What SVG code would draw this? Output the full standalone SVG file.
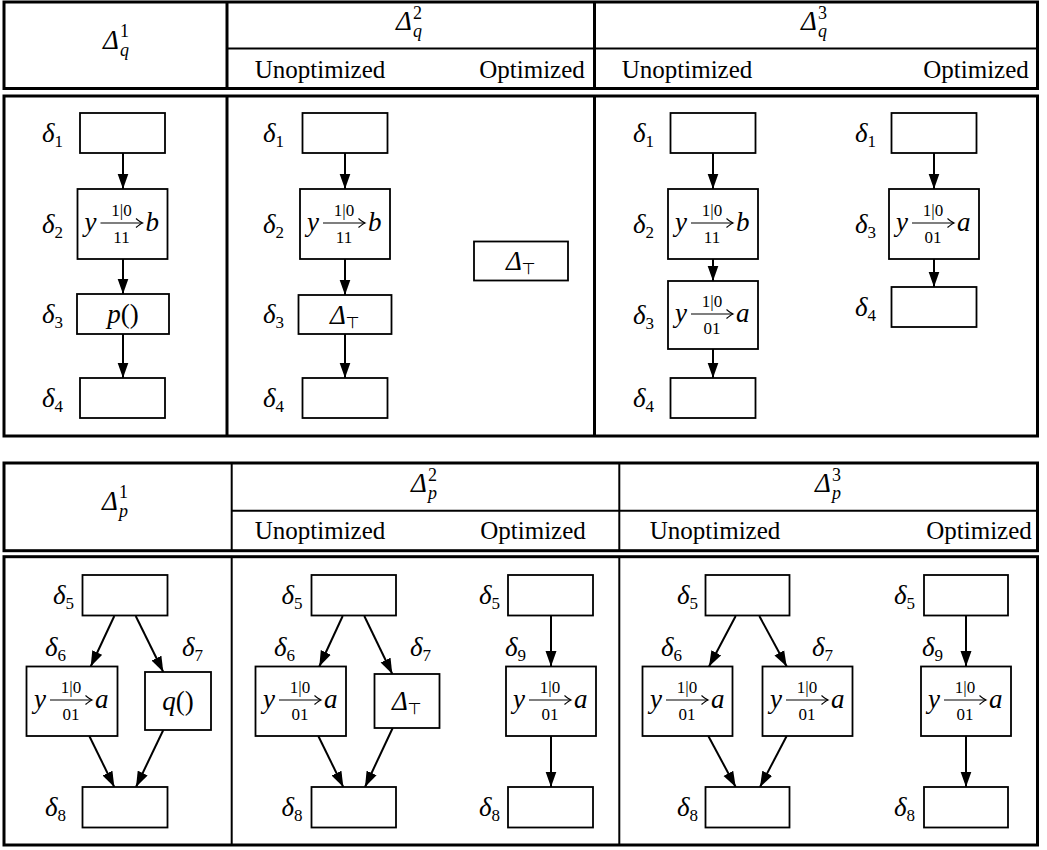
<svg xmlns="http://www.w3.org/2000/svg" width="1047" height="850" viewBox="0 0 1047 850">
<style>
.frame{fill:none;stroke:#000;stroke-width:3}
.rule{stroke:#000;stroke-width:2}
.rule3{stroke:#000;stroke-width:3}
.box{fill:#fff;stroke:#000;stroke-width:1.8}
.edge{fill:none;stroke:#000;stroke-width:2;marker-end:url(#tip)}
.xarr{fill:none;stroke:#000;stroke-width:1.2;marker-end:url(#hook)}
text{font-family:"Liberation Serif",serif;fill:#000}
.hd{font-size:25px;text-anchor:middle}
.m{font-size:27px;font-style:italic}
.hm{font-size:27px;font-style:italic}
.s{font-size:17px;font-style:normal}
.si{font-size:18px;font-style:italic}
.hs{font-size:18px;font-style:normal}
.t{font-family:"DejaVu Sans",sans-serif;font-size:16px;font-style:normal;fill:#000}
.c{text-anchor:middle}
.up{font-style:normal}
</style>
<defs>
<marker id="tip" markerUnits="userSpaceOnUse" markerWidth="16" markerHeight="12" viewBox="0 0 16 12" refX="15.5" refY="6" orient="auto"><path d="M0,0.5 L15.5,6 L0,11.5 z" fill="#000"/></marker>
<marker id="hook" markerUnits="userSpaceOnUse" markerWidth="10" markerHeight="10" viewBox="-8 -5 10 10" refX="0" refY="0" orient="auto" overflow="visible"><path d="M-6.5,-4.5 Q-2,-0.8 0,0 Q-2,0.8 -6.5,4.5" fill="none" stroke="#000" stroke-width="1.2"/></marker>
</defs>
<rect width="1047" height="850" fill="#fff"/>

<!-- ===== upper table: procedure q ===== -->
<g id="q-header">
<rect class="frame" x="4" y="2" width="1033.5" height="86.5"/>
<line class="rule3" x1="227" y1="2" x2="227" y2="88.5"/>
<line class="rule3" x1="594.5" y1="2" x2="594.5" y2="88.5"/>
<line class="rule" x1="227" y1="48.5" x2="1037.5" y2="48.5"/>
<text class="hm" x="103" y="49">Δ</text><text class="hs" x="120" y="37">1</text><text class="si" x="120" y="56">q</text>
<text class="hm" x="396" y="30">Δ</text><text class="hs" x="413" y="19">2</text><text class="si" x="413" y="37">q</text>
<text class="hm" x="801" y="30">Δ</text><text class="hs" x="818" y="19">3</text><text class="si" x="818" y="37">q</text>
<text class="hd" x="320" y="78">Unoptimized</text>
<text class="hd" x="532" y="78">Optimized</text>
<text class="hd" x="687" y="78">Unoptimized</text>
<text class="hd" x="976" y="78">Optimized</text>
</g>
<g id="q-body">
<rect class="frame" x="4" y="96" width="1033.5" height="340"/>
<line class="rule3" x1="227" y1="96" x2="227" y2="436"/>
<line class="rule3" x1="594.5" y1="96" x2="594.5" y2="436"/>
</g>

<g id="connectors-q">
<line class="edge" x1="123" y1="153" x2="123" y2="189"/>
<line class="edge" x1="123" y1="259" x2="123" y2="294"/>
<line class="edge" x1="123" y1="334" x2="123" y2="378"/>
<line class="edge" x1="345" y1="153" x2="345" y2="189"/>
<line class="edge" x1="345" y1="259" x2="345" y2="295"/>
<line class="edge" x1="345" y1="334" x2="345" y2="378"/>
<line class="edge" x1="713" y1="153" x2="713" y2="189"/>
<line class="edge" x1="713" y1="259" x2="713" y2="281"/>
<line class="edge" x1="713" y1="349" x2="713" y2="378"/>
<line class="edge" x1="934" y1="153" x2="934" y2="189"/>
<line class="edge" x1="934" y1="259" x2="934" y2="287"/>
</g>

<!-- q, first version -->
<g id="q1-d1"><rect class="box" x="80" y="113" width="85" height="40"/><text class="m" x="42" y="142">δ<tspan class="s" dy="5">1</tspan></text></g>
<g id="q1-d2"><rect class="box" x="77.5" y="189" width="90" height="70"/><text class="m" x="42" y="233">δ<tspan class="s" dy="5">2</tspan></text>
<text class="m" x="84.5" y="231">y</text><path class="xarr" d="M100.5 223 H142.5"/><text class="s c" x="121.5" y="216">1|0</text><text class="s c" x="121.5" y="243">11</text><text class="m" x="145.5" y="231">b</text></g>
<g id="q1-d3"><rect class="box" x="77" y="294" width="92" height="40"/><text class="m" x="42" y="323">δ<tspan class="s" dy="5">3</tspan></text>
<text class="m c" x="123" y="323">p<tspan class="up">()</tspan></text></g>
<g id="q1-d4"><rect class="box" x="80" y="378" width="85" height="40"/><text class="m" x="42" y="407">δ<tspan class="s" dy="5">4</tspan></text></g>

<!-- q, second version, unoptimized -->
<g id="q2u-d1"><rect class="box" x="302.5" y="113" width="85" height="40"/><text class="m" x="263" y="142">δ<tspan class="s" dy="5">1</tspan></text></g>
<g id="q2u-d2"><rect class="box" x="300" y="189" width="90" height="70"/><text class="m" x="263" y="233">δ<tspan class="s" dy="5">2</tspan></text>
<text class="m" x="307" y="231">y</text><path class="xarr" d="M323 223 H365"/><text class="s c" x="344" y="216">1|0</text><text class="s c" x="344" y="243">11</text><text class="m" x="368" y="231">b</text></g>
<g id="q2u-d3"><rect class="box" x="298.5" y="295" width="93" height="39"/><text class="m" x="263" y="323">δ<tspan class="s" dy="5">3</tspan></text>
<text class="m" x="330" y="323.5">Δ<tspan class="t" dy="4">⊤</tspan></text></g>
<g id="q2u-d4"><rect class="box" x="302.5" y="378" width="85" height="40"/><text class="m" x="263" y="407">δ<tspan class="s" dy="5">4</tspan></text></g>

<!-- q, second version, optimized -->
<g id="q2o-top"><rect class="box" x="474" y="241.5" width="94" height="39"/><text class="m" x="506" y="270">Δ<tspan class="t" dy="4">⊤</tspan></text></g>

<!-- q, third version, unoptimized -->
<g id="q3u-d1"><rect class="box" x="670.5" y="113" width="85" height="40"/><text class="m" x="633" y="142">δ<tspan class="s" dy="5">1</tspan></text></g>
<g id="q3u-d2"><rect class="box" x="668" y="189" width="90" height="70"/><text class="m" x="633" y="233">δ<tspan class="s" dy="5">2</tspan></text>
<text class="m" x="675" y="231">y</text><path class="xarr" d="M691 223 H733"/><text class="s c" x="712" y="216">1|0</text><text class="s c" x="712" y="243">11</text><text class="m" x="736" y="231">b</text></g>
<g id="q3u-d3"><rect class="box" x="668" y="281" width="90" height="68"/><text class="m" x="633" y="324">δ<tspan class="s" dy="5">3</tspan></text>
<text class="m" x="675" y="322">y</text><path class="xarr" d="M691 314 H733"/><text class="s c" x="712" y="307">1|0</text><text class="s c" x="712" y="334">01</text><text class="m" x="736" y="322">a</text></g>
<g id="q3u-d4"><rect class="box" x="670.5" y="378" width="85" height="40"/><text class="m" x="633" y="407">δ<tspan class="s" dy="5">4</tspan></text></g>

<!-- q, third version, optimized -->
<g id="q3o-d1"><rect class="box" x="891.5" y="113" width="85" height="40"/><text class="m" x="855" y="142">δ<tspan class="s" dy="5">1</tspan></text></g>
<g id="q3o-d3"><rect class="box" x="889" y="189" width="90" height="70"/><text class="m" x="855" y="233">δ<tspan class="s" dy="5">3</tspan></text>
<text class="m" x="896" y="231">y</text><path class="xarr" d="M912 223 H954"/><text class="s c" x="933" y="216">1|0</text><text class="s c" x="933" y="243">01</text><text class="m" x="957" y="231">a</text></g>
<g id="q3o-d4"><rect class="box" x="891.5" y="287" width="85" height="40"/><text class="m" x="855" y="316">δ<tspan class="s" dy="5">4</tspan></text></g>

<!-- ===== lower table: procedure p ===== -->
<g id="p-header">
<rect class="frame" x="4" y="463" width="1033.5" height="87.7"/>
<line class="rule" x1="231.7" y1="463" x2="231.7" y2="550.7"/>
<line class="rule" x1="619.3" y1="463" x2="619.3" y2="550.7"/>
<line class="rule" x1="231.7" y1="510.7" x2="1037.5" y2="510.7"/>
<text class="hm" x="102" y="510">Δ</text><text class="hs" x="119" y="498">1</text><text class="si" x="119" y="517">p</text>
<text class="hm" x="411" y="492">Δ</text><text class="hs" x="428" y="481">2</text><text class="si" x="428" y="499">p</text>
<text class="hm" x="815" y="492">Δ</text><text class="hs" x="832" y="481">3</text><text class="si" x="832" y="499">p</text>
<text class="hd" x="320" y="539">Unoptimized</text>
<text class="hd" x="533" y="539">Optimized</text>
<text class="hd" x="715" y="539">Unoptimized</text>
<text class="hd" x="979" y="539">Optimized</text>
</g>
<g id="p-body">
<rect class="frame" x="4" y="556.7" width="1033.5" height="288.3"/>
<line class="rule" x1="231.7" y1="556.7" x2="231.7" y2="845"/>
<line class="rule" x1="619.3" y1="556.7" x2="619.3" y2="845"/>
</g>

<g id="connectors-p">
<line class="edge" x1="114.3" y1="616" x2="90.7" y2="666.5"/>
<line class="edge" x1="135.7" y1="616" x2="163.3" y2="672"/>
<line class="edge" x1="89.3" y1="736" x2="114.3" y2="787"/>
<line class="edge" x1="163.3" y1="730" x2="136" y2="787"/>
<line class="edge" x1="342.7" y1="616" x2="319.3" y2="666.5"/>
<line class="edge" x1="364.3" y1="616" x2="392.3" y2="674"/>
<line class="edge" x1="318.3" y1="736" x2="343.3" y2="787"/>
<line class="edge" x1="392.7" y1="728" x2="365" y2="787"/>
<line class="edge" x1="551" y1="615.5" x2="551" y2="666.5"/>
<line class="edge" x1="551" y1="736" x2="551" y2="787"/>
<line class="edge" x1="735.7" y1="616" x2="709" y2="666.5"/>
<line class="edge" x1="759.3" y1="616" x2="786.7" y2="666.5"/>
<line class="edge" x1="708.3" y1="736" x2="735.7" y2="787"/>
<line class="edge" x1="786.7" y1="736" x2="760" y2="787"/>
<line class="edge" x1="966" y1="615.5" x2="966" y2="666.5"/>
<line class="edge" x1="966" y1="736" x2="966" y2="787"/>
</g>

<!-- p, first version -->
<g id="p1-d5"><rect class="box" x="82.5" y="575" width="85" height="40.5"/><text class="m" x="53" y="604">δ<tspan class="s" dy="5">5</tspan></text></g>
<g id="p1-d6"><rect class="box" x="26.5" y="666.5" width="91" height="69.5"/><text class="m" x="45" y="656">δ<tspan class="s" dy="5">6</tspan></text>
<text class="m" x="34" y="708">y</text><path class="xarr" d="M50 700 H92"/><text class="s c" x="71" y="693">1|0</text><text class="s c" x="71" y="720">01</text><text class="m" x="95" y="708">a</text></g>
<g id="p1-d7"><rect class="box" x="145" y="672" width="66" height="58"/><text class="m" x="182" y="656">δ<tspan class="s" dy="5">7</tspan></text>
<text class="m c" x="178" y="710">q<tspan class="up">()</tspan></text></g>
<g id="p1-d8"><rect class="box" x="82.5" y="787" width="85" height="40.5"/><text class="m" x="45" y="816">δ<tspan class="s" dy="5">8</tspan></text></g>

<!-- p, second version, unoptimized -->
<g id="p2u-d5"><rect class="box" x="311.5" y="575" width="84.5" height="40.5"/><text class="m" x="281.5" y="604">δ<tspan class="s" dy="5">5</tspan></text></g>
<g id="p2u-d6"><rect class="box" x="255.5" y="666.5" width="90.5" height="69.5"/><text class="m" x="274" y="656">δ<tspan class="s" dy="5">6</tspan></text>
<text class="m" x="263" y="708">y</text><path class="xarr" d="M279 700 H321"/><text class="s c" x="300" y="693">1|0</text><text class="s c" x="300" y="720">01</text><text class="m" x="324" y="708">a</text></g>
<g id="p2u-d7"><rect class="box" x="374.5" y="674" width="65" height="54"/><text class="m" x="410" y="656">δ<tspan class="s" dy="5">7</tspan></text>
<text class="m" x="392" y="710">Δ<tspan class="t" dy="4">⊤</tspan></text></g>
<g id="p2u-d8"><rect class="box" x="311.5" y="787" width="84.5" height="40.5"/><text class="m" x="281.5" y="816">δ<tspan class="s" dy="5">8</tspan></text></g>

<!-- p, second version, optimized -->
<g id="p2o-d5"><rect class="box" x="508" y="575" width="85" height="40.5"/><text class="m" x="479" y="604">δ<tspan class="s" dy="5">5</tspan></text></g>
<g id="p2o-d9"><rect class="box" x="506" y="666.5" width="90" height="69.5"/><text class="m" x="505" y="656">δ<tspan class="s" dy="5">9</tspan></text>
<text class="m" x="513" y="708">y</text><path class="xarr" d="M529 700 H571"/><text class="s c" x="550" y="693">1|0</text><text class="s c" x="550" y="720">01</text><text class="m" x="574" y="708">a</text></g>
<g id="p2o-d8"><rect class="box" x="508" y="787" width="85" height="40.5"/><text class="m" x="479" y="816">δ<tspan class="s" dy="5">8</tspan></text></g>

<!-- p, third version, unoptimized -->
<g id="p3u-d5"><rect class="box" x="705.5" y="575" width="84" height="40.5"/><text class="m" x="677" y="604">δ<tspan class="s" dy="5">5</tspan></text></g>
<g id="p3u-d6"><rect class="box" x="642.5" y="666.5" width="90" height="69.5"/><text class="m" x="661" y="656">δ<tspan class="s" dy="5">6</tspan></text>
<text class="m" x="650" y="708">y</text><path class="xarr" d="M666 700 H708"/><text class="s c" x="687" y="693">1|0</text><text class="s c" x="687" y="720">01</text><text class="m" x="711" y="708">a</text></g>
<g id="p3u-d7"><rect class="box" x="762.5" y="666.5" width="90" height="69.5"/><text class="m" x="812" y="656">δ<tspan class="s" dy="5">7</tspan></text>
<text class="m" x="770" y="708">y</text><path class="xarr" d="M786 700 H828"/><text class="s c" x="807" y="693">1|0</text><text class="s c" x="807" y="720">01</text><text class="m" x="831" y="708">a</text></g>
<g id="p3u-d8"><rect class="box" x="705.5" y="787" width="84" height="40.5"/><text class="m" x="677" y="816">δ<tspan class="s" dy="5">8</tspan></text></g>

<!-- p, third version, optimized -->
<g id="p3o-d5"><rect class="box" x="924" y="575" width="84" height="40.5"/><text class="m" x="894" y="604">δ<tspan class="s" dy="5">5</tspan></text></g>
<g id="p3o-d9"><rect class="box" x="921" y="666.5" width="90" height="69.5"/><text class="m" x="922" y="656">δ<tspan class="s" dy="5">9</tspan></text>
<text class="m" x="928" y="708">y</text><path class="xarr" d="M944 700 H986"/><text class="s c" x="965" y="693">1|0</text><text class="s c" x="965" y="720">01</text><text class="m" x="989" y="708">a</text></g>
<g id="p3o-d8"><rect class="box" x="924" y="787" width="84" height="40.5"/><text class="m" x="894" y="816">δ<tspan class="s" dy="5">8</tspan></text></g>
</svg>
